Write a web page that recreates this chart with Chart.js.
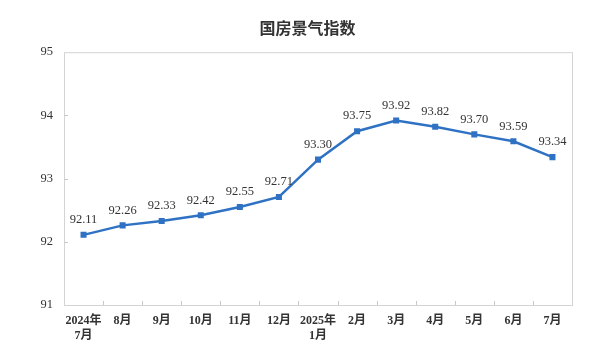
<!DOCTYPE html>
<html>
<head>
<meta charset="utf-8">
<script src="https://cdn.jsdelivr.net/npm/chart.js@4/dist/chart.umd.min.js"></script>
<style>
  html, body { margin: 0; padding: 0; background: #fff; }
  #wrap { width: 615px; height: 358px; }
</style>
</head>
<body>
<div id="wrap"><canvas id="chart" width="615" height="358"></canvas></div>
<script>
// 数据
const months = [
    ['2024年', '7月'], '8月', '9月', '10月', '11月', '12月',
    ['2025年', '1月'], '2月', '3月', '4月', '5月', '6月', '7月'
];
const indexValues = [92.11, 92.26, 92.33, 92.42, 92.55, 92.71, 93.30, 93.75, 93.92, 93.82, 93.70, 93.59, 93.34];
const yTicks = [91, 92, 93, 94, 95];

const serif = '"Liberation Serif", "Times New Roman", "Noto Sans CJK SC", serif';

// 边框、刻度和数据标签
const boxPlugin = {
    id: 'boxPlugin',
    afterDraw(chart) {
        const { ctx, chartArea: a, scales } = chart;
        ctx.save();
        ctx.strokeStyle = '#d4d4d4';
        ctx.lineWidth = 1;
        ctx.strokeRect(a.left + 0.5, a.top + 0.5, a.right - a.left, a.bottom - a.top);

        // 向内的小刻度
        ctx.strokeStyle = '#c8c8c8';
        ctx.beginPath();
        yTicks.slice(1, -1).forEach(v => {
            const y = Math.round(scales.y.getPixelForValue(v)) + 0.5;
            ctx.moveTo(a.left, y);
            ctx.lineTo(a.left + 4, y);
        });
        const step = scales.x.getPixelForValue(1) - scales.x.getPixelForValue(0);
        for (let i = 0; i < months.length - 1; i++) {
            const x = Math.round(scales.x.getPixelForValue(i) + step / 2) + 0.5;
            ctx.moveTo(x, a.bottom);
            ctx.lineTo(x, a.bottom - 4);
        }
        ctx.stroke();

        // 数值标签
        const meta = chart.getDatasetMeta(0);
        ctx.fillStyle = '#333';
        ctx.font = '12.5px ' + serif;
        ctx.textAlign = 'center';
        ctx.textBaseline = 'middle';
        meta.data.forEach((pt, i) => {
            ctx.fillText(indexValues[i].toFixed(2), pt.x, pt.y - 15);
        });
        ctx.restore();
    }
};

new Chart(document.getElementById('chart'), {
    type: 'line',
    data: {
        labels: months,
        datasets: [{
            label: '国房景气指数',
            data: indexValues,
            borderColor: '#2f72c4',
            backgroundColor: '#2f72c4',
            borderWidth: 2.5,
            pointStyle: 'rect',
            pointRadius: 2.5,
            tension: 0
        }]
    },
    options: {
        responsive: false,
        animation: false,
        layout: { padding: 0 },
        plugins: {
            legend: { display: false },
            tooltip: { enabled: false },
            title: {
                display: true,
                text: '国房景气指数',
                color: '#333',
                font: { family: '"Noto Sans CJK SC", sans-serif', size: 16, weight: 'bold' },
                padding: { top: 18, bottom: 15 }
            }
        },
        scales: {
            x: {
                offset: true,
                grid: { display: false, offset: true },
                border: { display: false },
                ticks: {
                    color: '#333',
                    padding: 0,
                    maxRotation: 0,
                    autoSkip: false,
                    font: { family: serif, size: 12, weight: 'bold', lineHeight: 1.25 }
                },
                afterFit: s => { s.height = 53; }
            },
            y: {
                min: 91,
                max: 95,
                grid: { display: false },
                border: { display: false },
                ticks: {
                    stepSize: 1,
                    color: '#333',
                    padding: 3,
                    font: { family: serif, size: 12.5 }
                },
                afterFit: s => { s.width = 64; }
            },
            // 右侧留白
            y2: {
                position: 'right',
                display: true,
                grid: { display: false },
                border: { display: false },
                ticks: { display: false },
                afterFit: s => { s.width = 43; }
            }
        }
    },
    plugins: [boxPlugin]
});
</script>
</body>
</html>
